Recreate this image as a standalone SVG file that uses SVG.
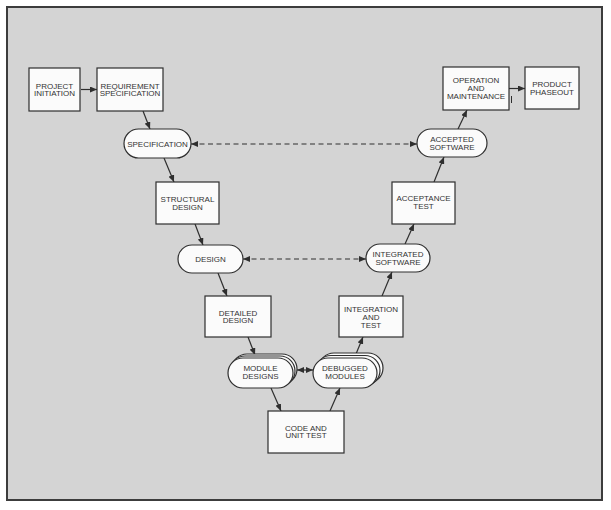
<svg xmlns="http://www.w3.org/2000/svg" width="611" height="510" viewBox="0 0 611 510">
<style>
.box{fill:#fbfbfb;stroke:#2e2e2e;stroke-width:1.2}
.pill{fill:#fbfbfb;stroke:#2e2e2e;stroke-width:1.2}
.t{font-family:"Liberation Sans",Arial,sans-serif;font-size:8px;fill:#333;text-anchor:middle}
.c{fill:none;stroke:#2e2e2e;stroke-width:1.2;marker-end:url(#ah)}
.d{fill:none;stroke:#2e2e2e;stroke-width:1.2;stroke-dasharray:5,3.5;marker-start:url(#ah);marker-end:url(#ah)}
</style>
<defs>
<marker id="ah" markerUnits="userSpaceOnUse" markerWidth="8" markerHeight="6" refX="7" refY="3" orient="auto-start-reverse">
<path d="M0,0 L7,3 L0,6 z" fill="#2e2e2e"/>
</marker>
</defs>
<rect x="0" y="0" width="611" height="510" fill="#ffffff"/>
<rect x="7" y="7" width="595" height="493" fill="#d4d4d4" stroke="#3c3c3c" stroke-width="2"/>

<g id="connectors">
<line class="c" x1="81" y1="89.5" x2="97" y2="89.5"/>
<line class="c" x1="143" y1="111" x2="150" y2="129"/>
<line class="c" x1="164" y1="158" x2="174" y2="182"/>
<line class="c" x1="195" y1="224" x2="203" y2="245"/>
<line class="c" x1="218" y1="273" x2="227" y2="296"/>
<line class="c" x1="248" y1="337" x2="255" y2="355"/>
<line class="c" x1="271" y1="388" x2="281" y2="411"/>
<line class="c" x1="330" y1="411" x2="340" y2="388"/>
<line class="c" x1="356" y1="354" x2="363" y2="337"/>
<line class="c" x1="382" y1="296" x2="392" y2="272"/>
<line class="c" x1="405" y1="244" x2="414" y2="224"/>
<line class="c" x1="434" y1="182" x2="444" y2="157"/>
<line class="c" x1="458" y1="129" x2="467" y2="110"/>
<line class="c" x1="509" y1="88.5" x2="525" y2="88.5"/>
<line class="d" x1="191" y1="144" x2="417" y2="144"/>
<line class="d" x1="243" y1="259" x2="366" y2="259"/>
<line class="c" x1="297" y1="370" x2="313" y2="370" style="marker-start:url(#ah)"/>
<line x1="511.5" y1="96" x2="511.5" y2="103" stroke="#2e2e2e" stroke-width="1"/>
</g>

<g id="project-initiation">
<rect class="box" x="29" y="68" width="51" height="43"/>
<text class="t" x="54.5" y="88.5">PROJECT</text>
<text class="t" x="54.5" y="96">INITIATION</text>
</g>
<g id="requirement-specification">
<rect class="box" x="97" y="68" width="66" height="43"/>
<text class="t" x="130" y="88.5">REQUIREMENT</text>
<text class="t" x="130" y="96">SPECIFICATION</text>
</g>
<g id="specification">
<rect class="pill" x="124" y="129" width="67" height="29" rx="14.5"/>
<text class="t" x="157.5" y="146.5">SPECIFICATION</text>
</g>
<g id="structural-design">
<rect class="box" x="156" y="182" width="63" height="42"/>
<text class="t" x="187.5" y="202">STRUCTURAL</text>
<text class="t" x="187.5" y="209.5">DESIGN</text>
</g>
<g id="design">
<rect class="pill" x="178" y="245" width="65" height="28" rx="14"/>
<text class="t" x="210.5" y="262">DESIGN</text>
</g>
<g id="detailed-design">
<rect class="box" x="205" y="296" width="66" height="41"/>
<text class="t" x="238" y="315.5">DETAILED</text>
<text class="t" x="238" y="323">DESIGN</text>
</g>
<g id="module-designs">
<rect class="pill" x="232" y="354" width="65" height="30" rx="15"/>
<rect class="pill" x="230" y="356" width="65" height="30" rx="15"/>
<rect class="pill" x="228" y="358" width="65" height="30" rx="15"/>
<text class="t" x="260.5" y="371">MODULE</text>
<text class="t" x="260.5" y="378.5">DESIGNS</text>
</g>
<g id="code-and-unit-test">
<rect class="box" x="268" y="411" width="76" height="42"/>
<text class="t" x="306" y="430.5">CODE AND</text>
<text class="t" x="306" y="438">UNIT TEST</text>
</g>
<g id="debugged-modules">
<rect class="pill" x="319" y="353" width="64" height="30" rx="15"/>
<rect class="pill" x="316" y="355.5" width="64" height="30" rx="15"/>
<rect class="pill" x="313" y="358" width="64" height="30" rx="15"/>
<text class="t" x="345" y="371">DEBUGGED</text>
<text class="t" x="345" y="378.5">MODULES</text>
</g>
<g id="integration-and-test">
<rect class="box" x="339" y="296" width="64" height="41"/>
<text class="t" x="371" y="311.5">INTEGRATION</text>
<text class="t" x="371" y="319.5">AND</text>
<text class="t" x="371" y="327.5">TEST</text>
</g>
<g id="integrated-software">
<rect class="pill" x="366" y="244" width="64" height="28" rx="14"/>
<text class="t" x="398" y="257">INTEGRATED</text>
<text class="t" x="398" y="264.5">SOFTWARE</text>
</g>
<g id="acceptance-test">
<rect class="box" x="392" y="182" width="63" height="42"/>
<text class="t" x="423.5" y="201">ACCEPTANCE</text>
<text class="t" x="423.5" y="208.5">TEST</text>
</g>
<g id="accepted-software">
<rect class="pill" x="417" y="129" width="70" height="28" rx="14"/>
<text class="t" x="452" y="142">ACCEPTED</text>
<text class="t" x="452" y="149.5">SOFTWARE</text>
</g>
<g id="operation-and-maintenance">
<rect class="box" x="443" y="67" width="66" height="43"/>
<text class="t" x="476" y="83">OPERATION</text>
<text class="t" x="476" y="91">AND</text>
<text class="t" x="476" y="99">MAINTENANCE</text>
</g>
<g id="product-phaseout">
<rect class="box" x="525" y="67" width="54" height="42"/>
<text class="t" x="552" y="87">PRODUCT</text>
<text class="t" x="552" y="94.5">PHASEOUT</text>
</g>
</svg>
